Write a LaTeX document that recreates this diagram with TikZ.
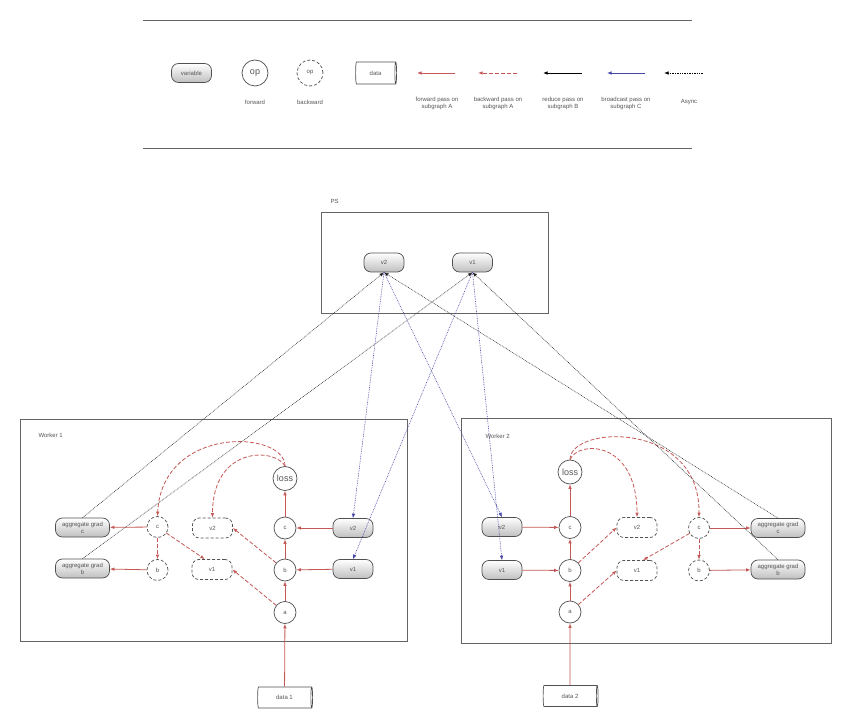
\documentclass[tikz,border=0pt]{standalone}
\usepackage{fontspec}
\setmainfont{Liberation Sans}
\usetikzlibrary{arrows.meta,shapes.geometric}
\definecolor{redA}{RGB}{196,88,86}
\definecolor{bd}{RGB}{80,80,80}
\definecolor{txt}{RGB}{85,85,85}
\definecolor{blueC}{RGB}{70,70,165}
\definecolor{frm}{RGB}{100,100,100}
\tikzset{
  sm/.style={font=\fontsize{6}{7}\selectfont, text=txt},
  var/.style={sm, draw=bd, line width=0.7pt, rounded corners=7pt, top color=white, bottom color=black!25,
    minimum width=40pt, minimum height=19pt, inner sep=0pt, align=center},
  agg/.style={var, minimum width=54pt},
  bvar/.style={sm, draw=bd, line width=0.7pt, dash pattern=on 3pt off 2pt, rounded corners=7pt, fill=white,
    minimum width=40pt, minimum height=20pt, inner sep=0pt},
  opc/.style={sm, circle, draw=bd, line width=0.7pt, fill=white, minimum size=22pt, inner sep=0pt},
  bop/.style={opc, dash pattern=on 3pt off 2pt, minimum size=21pt},
  datac/.style={sm, cylinder, shape aspect=0.4, draw=bd, line width=0.7pt, fill=white,
    minimum height=55pt, minimum width=21pt, inner sep=0pt},
  frame/.style={draw=frm, line width=0.8pt},
  tip/.style={-{Latex[length=4.5pt,width=3.5pt]}},
  fwd/.style={tip, draw=redA, line width=0.8pt},
  bwd/.style={tip, draw=redA, line width=0.8pt, dash pattern=on 4pt off 2pt},
  redpass/.style={tip, draw=black, line width=0.9pt},
  bcl/.style={tip, draw=blueC, line width=0.8pt},
  async/.style={tip, draw=black!85, line width=0.55pt, dash pattern=on 0.8pt off 0.9pt},
  bcast/.style={tip, draw=blueC, line width=0.55pt, dash pattern=on 0.8pt off 0.9pt},
  lab/.style={sm, align=center},
}
\begin{document}
\begin{tikzpicture}[x=1pt,y=-1pt]
\fill[white] (0,0) rectangle (844,722);
\useasboundingbox (0,0) rectangle (844,722);
% legend
\draw[frm, line width=0.8pt] (143,20) -- (692,20);
\draw[frm, line width=0.8pt] (143,148) -- (692,148);
\node[var] (lvar) at (191.5,73) {variable};
\node[opc, minimum size=26pt, font=\fontsize{9}{10}\selectfont] (lop) at (255,73) {op};
\node[bop, minimum size=26pt] (lbop) at (310,73) {op};
\node[datac, minimum height=41pt, minimum width=22pt] (ldata) at (375.5,73) {data};
\node[lab] (tfw) at (255,102) {forward};
\node[lab] (tbw) at (310,102) {backward};
\coordinate (fR) at (455,73); \coordinate (fL) at (417,73);
\coordinate (bR) at (517,73); \coordinate (bL) at (478,73);
\coordinate (rR) at (582,73); \coordinate (rL) at (543,73);
\coordinate (cR) at (645,73); \coordinate (cL) at (607,73);
\coordinate (aR) at (703,73); \coordinate (aL) at (664,73);
\draw[fwd] (fR) -- (fL);
\draw[bwd] (bR) -- (bL);
\draw[redpass] (rR) -- (rL);
\draw[bcl] (cR) -- (cL);
\draw[async, draw=black, line width=0.8pt] (aR) -- (aL);
\node[lab] (t1) at (437,103) {forward pass on\\subgraph A};
\node[lab] (t2) at (498,103) {backward pass on\\subgraph A};
\node[lab] (t3) at (563,103) {reduce pass on\\subgraph B};
\node[lab] (t4) at (626,103) {broadcast pass on\\subgraph C};
\node[lab] (t5) at (689,102) {Async};
% PS
\draw[frame] (321,212) rectangle (548,313);
\node[sm, anchor=west] (pst) at (327,201) {PS};
\node[var] (psv2) at (384,262.5) {v2};
\node[var] (psv1) at (472.5,262.5) {v1};
% Worker 1
\draw[frame] (20,419) rectangle (407,641);
\node[sm, anchor=west] (w1t) at (35,435) {Worker 1};
\node[agg] (aggc1) at (82.5,527.5) {aggregate grad\\c};
\node[agg] (aggb1) at (82.5,568.5) {aggregate grad\\b};
\node[bop] (cd1) at (157.5,527) {c};
\node[bop] (bd1) at (157.5,570) {b};
\node[bvar] (v2d1) at (212.5,528) {v2};
\node[bvar] (v1d1) at (212,569.5) {v1};
\node[opc, minimum size=24pt, font=\fontsize{9}{10}\selectfont] (loss1) at (285,478.5) {loss};
\node[opc] (c1) at (285,528) {c};
\node[opc] (b1) at (285,570) {b};
\node[opc] (a1) at (285,612.5) {a};
\node[var] (v2w1) at (353,528) {v2};
\node[var] (v1w1) at (353,569) {v1};
\node[datac] (data1) at (284.5,697.5) {data 1};
% Worker 2
\draw[frame] (461,418) rectangle (831,643);
\node[sm, anchor=west] (w2t) at (482,436) {Worker 2};
\node[var] (v2w2) at (502,527) {v2};
\node[var] (v1w2) at (502,570) {v1};
\node[opc, minimum size=24pt, font=\fontsize{9}{10}\selectfont] (loss2) at (570,472) {loss};
\node[opc] (c2) at (570,527.5) {c};
\node[opc] (b2) at (570,570.5) {b};
\node[opc] (a2) at (570,612) {a};
\node[bvar] (v2d2) at (637,527.5) {v2};
\node[bvar] (v1d2) at (637,570.5) {v1};
\node[bop] (cd2) at (699,528) {c};
\node[bop] (bd2) at (699,570.5) {b};
\node[agg] (aggc2) at (778,528) {aggregate grad\\c};
\node[agg] (aggb2) at (778,569.5) {aggregate grad\\b};
\node[datac] (data2) at (570,696) {data 2};
% worker 1 forward
\draw[fwd] (data1) -- (a1);
\draw[fwd] (a1) -- (b1);
\draw[fwd] (b1) -- (c1);
\draw[fwd] (c1) -- (loss1);
\draw[fwd] (v2w1) -- (c1);
\draw[fwd] (v1w1) -- (b1);
\draw[fwd] (cd1) -- (aggc1);
\draw[fwd] (bd1) -- (aggb1);
% worker 1 backward
\draw[bwd] (loss1.north) .. controls (285,430) and (162,425) .. (cd1.north);
\draw[bwd] (loss1.north) .. controls (276,448) and (212.5,445) .. (v2d1.north);
\draw[bwd] (cd1) -- (bd1);
\draw[bwd] (cd1) -- (v1d1.125);
\draw[bwd] (b1) -- (v2d1.east);
\draw[bwd] (a1) -- (v1d1.east);
% worker 2 forward
\draw[fwd] (data2) -- (a2);
\draw[fwd] (a2) -- (b2);
\draw[fwd] (b2) -- (c2);
\draw[fwd] (c2) -- (loss2);
\draw[fwd] (v2w2) -- (c2);
\draw[fwd] (v1w2) -- (b2);
\draw[fwd] (cd2) -- (aggc2);
\draw[fwd] (bd2) -- (aggb2);
% worker 2 backward
\draw[bwd] (loss2.north) .. controls (570,425) and (700,420) .. (cd2.north);
\draw[bwd] (loss2.north) .. controls (578,440) and (637,440) .. (v2d2.north);
\draw[bwd] (cd2) -- (bd2);
\draw[bwd] (cd2) -- (v1d2.60);
\draw[bwd] (b2) -- (v2d2.west);
\draw[bwd] (a2) -- (v1d2.west);
% async reduce to PS
\draw[async] (aggc1.north) -- (psv2.south);
\draw[async] (aggb1.north) -- (psv1.south);
\draw[async] (aggc2.north) -- (psv2.south);
\draw[async] (aggb2.north) -- (psv1.south);
% broadcast from PS
\draw[bcast] (psv2.south) -- (v2w1.north);
\draw[bcast] (psv1.south) -- (v1w1.north);
\draw[bcast] (psv2.south) -- (v2w2.north);
\draw[bcast] (psv1.south) -- (v1w2.north);
\end{tikzpicture}
\end{document}
